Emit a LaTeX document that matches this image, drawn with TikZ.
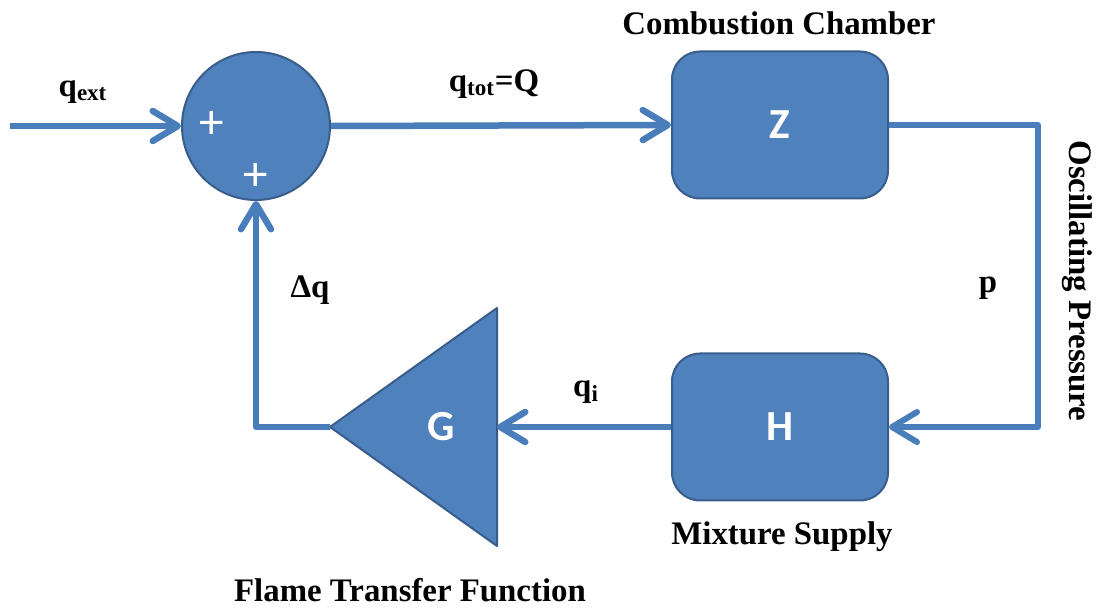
\documentclass[tikz,border=0pt]{standalone}
\usepackage{fontspec}
\setmainfont{Liberation Serif}
\newfontfamily\calib{Carlito}
\usetikzlibrary{arrows.meta}

\definecolor{blockfill}{HTML}{4F81BD}
\definecolor{blockedge}{HTML}{385D8A}
\definecolor{wire}{HTML}{4A7EBB}

\begin{document}
\begin{tikzpicture}[x=0.2mm, y=-0.2mm,
		junction/.style = {circle, draw=blockedge, fill=blockfill, line width=0.4mm, minimum size=29.6mm, inner sep=0pt},
		block/.style = {draw=blockedge, fill=blockfill, line width=0.4mm, rounded corners=5.6mm, minimum width=43.2mm, minimum height=29.4mm},
		blocktext/.style = {text=white, font=\calib\bfseries\fontsize{24.4}{28}\selectfont},
		plusmark/.style = {text=white, font=\calib\fontsize{28}{28}\selectfont, inner sep=0pt},
		signal/.style = {draw=wire, line width=1.3mm, line join=round, -{Straight Barb[length=5mm,width=6mm,round]}},
		letter/.style = {font=\bfseries\fontsize{18.7}{22}\selectfont}]

		\useasboundingbox (0,0) rectangle (1102,609);

		% summing junction and the two blocks
		\node[junction] (add) at (256,126) {};
		\node[plusmark] (plusa) at (212,125) {+};
		\node[plusmark] (plusb) at (256,177) {+};
		\node[block, blocktext] (Z) at (780,125) {Z};
		\node[block, blocktext] (H) at (780,427) {H};

		% flame gain, pointing left
		\draw[draw=blockedge, fill=blockfill, line width=0.4mm, line join=round]
			(330,427) coordinate (gout) -- (497,308) -- (497,546) -- cycle;
		\coordinate (gin) at (497,427);
		\node[blocktext] (G) at (441,427) {G};

		% signals
		\coordinate (src) at (10,126);
		\draw[signal] (src) -- (add.west);
		\draw[signal] (add.east) -- (Z.west);
		\draw[signal, line width=1.2mm] (Z.east) -- ++(149,0) |- (H.east);
		\draw[signal] (H.west) -- (gin);
		\draw[signal] (gout) -| (add.south);

		% labels
		\node[letter] (qext) at (83,92) {q\textsubscript{ext}};
		\node[letter] (qtot) at (494,84) {q\textsubscript{tot}=Q};
		\node[letter] (qi) at (586,392) {q\textsubscript{i}};
		\node[letter] (dq) at (310,290) {Δq};
		\node[letter] (p) at (988,288) {p};
		\node[letter, rotate=-90] (osc) at (1077,281) {Oscillating Pressure};
		\node[letter] (cc) at (779,23) {Combustion Chamber};
		\node[letter] (ms) at (782,537) {Mixture Supply};
		\node[letter] (ftf) at (410,590) {Flame Transfer Function};

	\end{tikzpicture}
\end{document}
